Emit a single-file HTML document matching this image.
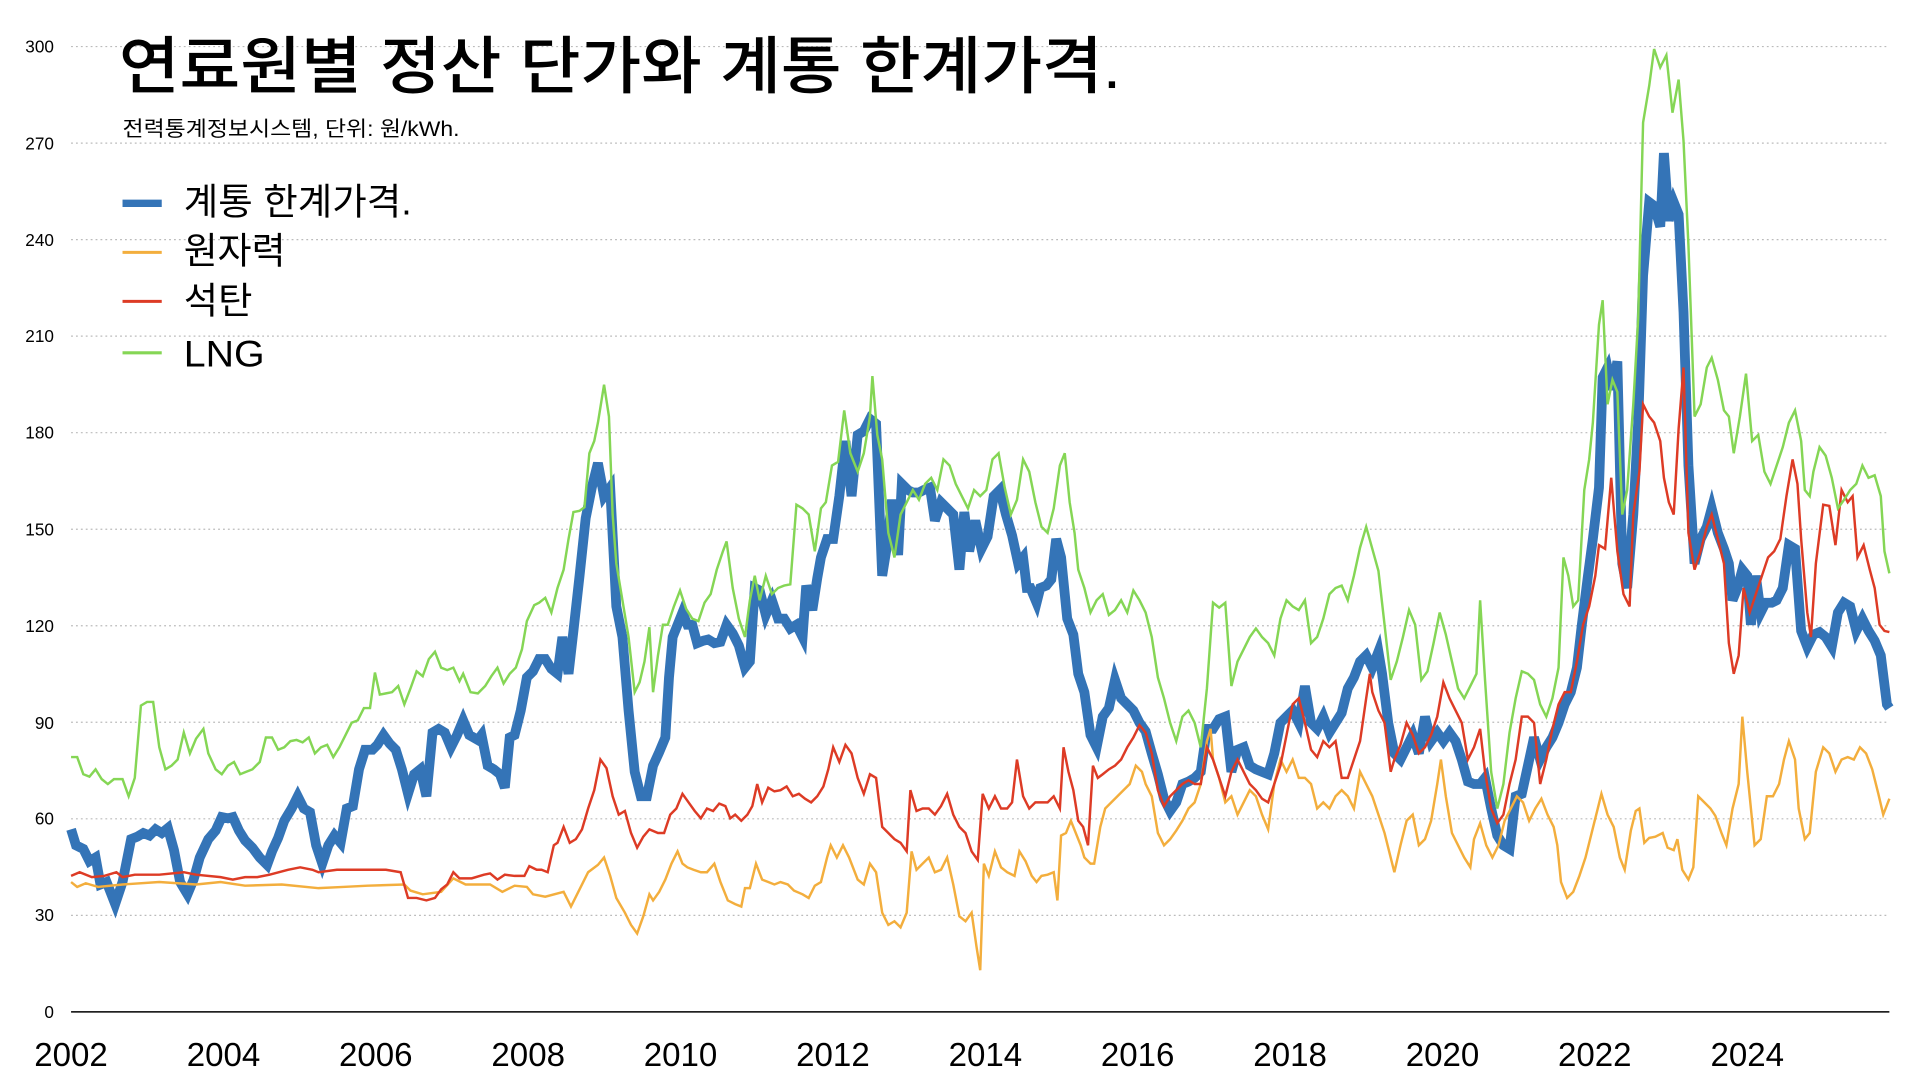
<!DOCTYPE html>
<html><head><meta charset="utf-8"><style>
html,body{margin:0;padding:0;background:#fff;width:1920px;height:1080px;overflow:hidden}
svg{display:block}
text{font-family:"Liberation Sans","Noto Sans CJK KR",sans-serif;fill:#000}
</style></head><body>
<svg width="1920" height="1080" viewBox="0 0 1567 881.6" preserveAspectRatio="none" xmlns="http://www.w3.org/2000/svg">
<g stroke="#bbb" stroke-width="1" stroke-dasharray="1.5,2.5">
<line x1="58" x2="1542" y1="38" y2="38"/><line x1="58" x2="1542" y1="116.8" y2="116.8"/><line x1="58" x2="1542" y1="195.6" y2="195.6"/><line x1="58" x2="1542" y1="274.4" y2="274.4"/><line x1="58" x2="1542" y1="353.2" y2="353.2"/><line x1="58" x2="1542" y1="432" y2="432"/><line x1="58" x2="1542" y1="510.8" y2="510.8"/><line x1="58" x2="1542" y1="589.6" y2="589.6"/><line x1="58" x2="1542" y1="668.4" y2="668.4"/><line x1="58" x2="1542" y1="747.2" y2="747.2"/>
</g>
<g font-size="14" text-anchor="end">
<text x="44" y="43">300</text><text x="44" y="122">270</text><text x="44" y="201">240</text><text x="44" y="279">210</text><text x="44" y="358">180</text><text x="44" y="437">150</text><text x="44" y="516">120</text><text x="44" y="595">90</text><text x="44" y="673">60</text><text x="44" y="752">30</text><text x="44" y="831">0</text>
</g>
<line x1="58" x2="1542" y1="826" y2="826" stroke="#000" stroke-width="1.3"/>
<g font-size="27" text-anchor="middle">
<text x="58" y="870">2002</text><text x="182.4" y="870">2004</text><text x="306.7" y="870">2006</text><text x="431.1" y="870">2008</text><text x="555.4" y="870">2010</text><text x="679.8" y="870">2012</text><text x="804.2" y="870">2014</text><text x="928.5" y="870">2016</text><text x="1052.9" y="870">2018</text><text x="1177.3" y="870">2020</text><text x="1301.6" y="870">2022</text><text x="1426" y="870">2024</text>
</g>
<g fill="none" stroke-linejoin="miter">
<polyline stroke="#3474b7" stroke-width="8" points="58,677 62,690 68,693 73,703 78,700 82,722 87,720 94,738 100,720 107,685 112,683 117,680 122,682 127,677 132,680 137,676 142,694 147,720 153,730 158,718 163,700 170,685 176,678 181,667 186,668 190,667 195,678 200,686 206,692 212,700 218,706 222,695 227,684 232,670 238,660 243,650 248,660 253,663 258,690 263,705 268,690 273,682 278,688 283,660 288,658 293,628 298,612 304,612 308,608 313,600 318,607 323,612 328,628 333,648 338,632 343,628 348,650 353,598 358,595 363,598 368,610 373,600 378,588 383,600 390,604 393,600 398,625 403,628 408,632 412,643 416,602 420,600 425,580 430,553 435,548 440,538 445,538 450,546 455,550 459,520 464,550 468,515 473,470 478,423 483,398 488,378 493,405 498,398 503,495 508,520 513,580 518,630 523,650 528,650 533,625 538,614 543,602 546,553 549,520 553,510 557,500 561,510 565,510 569,525 574,523 578,522 583,525 588,524 593,510 598,517 603,527 608,545 612,540 616,480 620,482 625,502 630,490 635,505 640,505 645,513 650,510 655,520 658,478 663,498 667,472 670,455 675,440 680,440 685,405 690,360 695,405 700,355 705,352 710,342 715,346 720,470 724,445 728,408 733,453 736,395 741,400 745,402 750,402 754,400 759,398 763,425 768,410 773,415 778,420 783,465 787,418 791,450 796,425 801,448 806,438 811,405 816,400 821,420 826,437 831,460 835,455 838,480 841,480 846,492 849,480 854,478 858,473 862,440 866,455 871,505 876,518 880,550 885,565 890,600 895,610 900,585 905,578 910,555 915,570 920,575 925,580 930,590 935,597 940,615 945,632 950,652 955,662 960,655 965,640 970,638 975,635 980,630 985,595 990,595 995,587 1000,585 1005,630 1010,612 1015,610 1020,625 1025,628 1030,630 1035,632 1040,615 1045,590 1050,585 1055,580 1060,590 1065,560 1070,590 1075,595 1080,585 1085,598 1090,590 1095,582 1100,562 1105,553 1110,540 1115,535 1120,545 1125,532 1128,550 1133,590 1138,615 1143,620 1148,610 1153,600 1158,615 1163,585 1168,605 1173,598 1178,605 1183,598 1188,605 1193,620 1198,638 1203,640 1208,640 1212,635 1217,660 1222,682 1227,690 1232,693 1237,650 1242,648 1247,625 1252,602 1257,620 1262,610 1267,602 1272,590 1277,575 1282,565 1287,545 1291,510 1296,470 1300,440 1305,398 1308,308 1312,300 1316,318 1320,295 1324,460 1328,480 1333,420 1337,345 1341,225 1346,165 1350,168 1355,185 1358,125 1362,180 1366,165 1370,175 1374,255 1378,380 1383,460 1388,440 1393,430 1397,415 1402,435 1407,448 1411,460 1414,490 1418,480 1422,465 1426,470 1429,510 1433,470 1437,500 1441,492 1446,492 1450,490 1455,480 1460,445 1465,448 1470,515 1475,528 1480,518 1485,516 1490,520 1495,528 1500,500 1505,492 1510,495 1515,515 1520,505 1525,515 1530,523 1535,535 1540,575 1542,578"/>
<polyline stroke="#f3ae3d" stroke-width="2" points="58,720 63,724 70,721 80,724 100,722 130,720 160,722 180,720 200,723 230,722 260,725 280,724 300,723 330,722 335,727 345,730 360,728 370,717 380,722 400,722 410,728 420,723 430,724 435,730 445,732 460,728 466,740 472,728 480,712 488,706 493,700 498,715 503,733 510,745 515,755 520,762 525,748 530,730 533,735 538,728 543,718 548,705 553,695 557,705 561,708 566,710 572,712 577,712 583,705 588,720 594,735 600,738 605,740 608,725 612,725 617,705 622,718 627,720 632,722 637,720 643,722 648,727 655,730 660,733 665,723 670,720 675,700 678,690 683,700 688,690 693,700 700,718 705,722 710,705 715,712 720,745 725,755 730,752 735,757 740,745 744,695 748,710 753,705 758,700 763,712 768,710 773,700 778,722 783,748 788,752 793,745 797,773 800,792 803,705 807,715 812,695 817,708 822,712 828,715 832,695 837,703 842,715 846,720 850,715 855,714 860,712 863,735 866,682 870,680 874,670 878,680 882,690 885,700 890,705 893,705 898,675 902,660 907,655 912,650 917,645 922,640 927,625 932,630 935,640 940,650 945,680 950,690 955,685 960,678 965,670 970,660 975,655 980,640 985,605 988,595 990,620 995,635 1000,655 1005,650 1010,665 1015,655 1020,645 1025,650 1030,665 1035,677 1040,640 1045,620 1050,630 1055,620 1060,635 1065,635 1070,640 1075,660 1080,655 1085,660 1090,650 1095,645 1100,650 1105,660 1110,630 1115,640 1120,650 1125,665 1130,680 1135,700 1138,712 1143,690 1148,670 1153,665 1158,690 1163,685 1168,670 1173,640 1176,620 1180,650 1185,680 1190,690 1195,700 1200,708 1203,685 1208,672 1213,690 1218,700 1223,690 1228,670 1233,660 1238,650 1243,655 1248,670 1253,660 1258,652 1263,665 1268,675 1271,690 1274,720 1279,733 1284,728 1289,715 1294,700 1299,680 1304,660 1307,648 1312,665 1317,675 1320,690 1322,700 1326,710 1331,678 1335,662 1338,660 1342,688 1346,684 1351,683 1357,680 1361,692 1366,694 1369,685 1373,710 1378,718 1382,708 1386,650 1391,655 1396,660 1400,666 1405,680 1409,690 1414,660 1419,640 1422,585 1426,630 1432,690 1437,685 1442,650 1447,650 1452,640 1456,620 1460,605 1465,620 1468,660 1473,685 1477,680 1482,630 1488,610 1493,615 1498,630 1503,620 1508,618 1513,620 1518,610 1523,615 1528,628 1533,648 1537,665 1542,652"/>
<polyline stroke="#dd3b25" stroke-width="2" points="58,715 65,712 75,716 85,715 95,712 100,716 110,714 130,714 150,712 160,714 180,716 190,718 200,716 210,716 220,714 235,710 245,708 255,710 260,712 275,710 290,710 300,710 315,710 327,712 333,733 340,733 348,735 355,733 360,726 365,722 370,712 375,717 385,717 395,714 400,713 406,718 412,714 420,715 428,715 432,707 438,710 442,710 447,712 452,690 455,688 460,675 465,688 470,685 475,677 480,660 485,645 490,620 495,627 500,650 505,665 510,662 515,680 520,692 525,683 530,677 537,680 542,680 547,665 552,660 557,648 562,655 567,662 572,668 577,660 582,662 587,656 592,658 596,668 600,665 605,670 610,665 614,658 618,640 622,655 627,643 632,646 637,645 642,642 647,650 652,648 657,652 662,655 667,650 672,642 676,628 680,610 685,622 690,608 695,615 700,635 705,648 710,632 715,635 720,675 725,680 730,685 735,688 740,695 743,645 748,662 753,660 758,660 763,665 768,658 773,648 778,665 783,675 788,680 793,695 798,702 802,648 807,660 812,650 817,660 822,660 826,655 830,620 835,650 840,660 845,655 850,655 855,655 860,650 865,660 868,610 872,630 876,645 880,670 884,675 888,690 892,625 896,635 900,632 905,628 910,625 915,620 920,610 925,602 930,592 935,598 940,615 945,645 950,658 955,650 960,645 965,640 970,637 975,640 980,640 985,610 990,620 995,635 1000,650 1005,630 1010,620 1015,630 1020,640 1025,645 1030,652 1035,655 1040,640 1045,625 1050,600 1055,575 1060,570 1065,590 1070,612 1075,618 1080,605 1085,610 1090,605 1095,635 1100,635 1105,620 1110,605 1115,570 1118,550 1120,565 1125,580 1130,590 1135,630 1138,620 1143,608 1148,590 1153,600 1158,615 1163,610 1168,600 1173,585 1178,557 1183,570 1188,580 1193,590 1198,620 1203,610 1208,595 1212,630 1217,660 1222,672 1227,665 1232,640 1237,620 1242,585 1247,585 1252,590 1257,640 1262,620 1267,595 1272,575 1277,565 1282,565 1287,540 1292,510 1297,495 1302,470 1305,445 1310,448 1315,390 1320,450 1325,485 1330,495 1333,420 1338,385 1341,330 1346,340 1350,345 1355,360 1358,390 1362,410 1366,420 1370,350 1374,300 1378,435 1383,465 1388,450 1393,430 1397,420 1402,440 1407,460 1411,525 1415,550 1419,535 1423,480 1428,500 1433,485 1438,470 1443,455 1448,450 1453,440 1458,405 1463,375 1467,395 1470,440 1475,500 1478,520 1482,460 1488,412 1493,413 1498,445 1503,400 1508,410 1512,405 1516,455 1521,445 1526,465 1530,480 1534,510 1538,515 1542,516"/>
<polyline stroke="#85d655" stroke-width="2" points="58,618 63,618 68,632 73,634 78,628 83,636 88,640 93,636 100,636 105,650 110,635 115,576 120,573 125,573 130,610 135,628 140,625 145,620 150,598 155,615 160,603 166,595 170,615 176,628 181,632 186,625 191,622 196,632 201,630 206,628 212,622 217,602 222,602 227,612 232,610 237,605 242,604 247,606 252,602 257,615 262,610 267,608 272,618 277,610 282,600 287,590 292,588 297,578 302,578 306,549 310,567 315,566 320,565 325,560 330,575 335,562 340,548 345,552 350,538 355,532 360,545 365,547 370,545 375,556 378,550 384,565 390,566 396,560 401,552 406,545 411,558 416,550 421,545 426,530 430,507 436,494 440,492 445,488 450,500 455,480 460,465 464,440 468,418 473,417 477,414 481,370 485,360 488,345 493,314 497,340 500,420 503,460 508,490 513,520 518,565 522,557 526,540 530,512 533,565 537,535 541,510 545,510 550,495 555,482 560,497 565,505 570,507 575,492 580,485 585,465 590,450 593,442 598,480 603,505 608,520 612,490 616,470 620,490 625,470 630,485 635,480 640,478 645,477 650,412 655,415 660,420 665,450 670,415 674,410 679,380 684,377 689,335 694,370 700,385 705,370 710,340 712,307 716,355 720,375 725,435 730,455 735,420 740,410 745,400 750,408 755,395 760,390 765,400 770,375 775,380 780,395 785,405 790,415 795,400 800,405 805,400 810,375 815,370 820,398 825,420 830,408 835,375 840,385 845,410 850,430 855,435 860,415 865,380 869,370 873,410 877,435 880,465 885,480 890,500 895,490 900,485 905,502 910,498 915,490 920,500 925,482 930,490 935,500 940,520 945,553 950,570 955,590 960,605 965,585 970,580 975,590 980,610 985,562 990,492 995,496 1000,492 1005,560 1010,540 1015,530 1020,520 1025,513 1030,520 1035,525 1040,535 1045,505 1050,490 1055,495 1060,498 1065,490 1070,525 1075,520 1080,505 1085,485 1090,480 1095,478 1100,490 1105,470 1110,447 1115,430 1120,448 1125,466 1130,510 1135,555 1140,540 1145,520 1150,498 1155,510 1160,555 1165,548 1170,525 1175,500 1180,518 1185,540 1190,562 1195,570 1200,560 1205,550 1208,490 1212,555 1217,630 1222,660 1227,640 1232,598 1237,570 1242,548 1247,550 1252,555 1257,575 1262,585 1267,570 1272,545 1276,455 1280,470 1284,495 1288,490 1293,400 1297,375 1300,345 1305,265 1308,245 1312,330 1316,310 1320,320 1324,420 1328,400 1333,330 1337,260 1341,100 1346,70 1350,40 1355,55 1360,45 1365,92 1370,65 1374,115 1378,200 1383,340 1388,330 1393,300 1397,292 1402,310 1407,335 1411,340 1415,370 1420,340 1425,305 1430,360 1435,355 1440,385 1445,395 1450,380 1455,365 1460,345 1465,335 1470,360 1473,400 1477,405 1480,385 1485,365 1490,372 1495,390 1500,415 1505,408 1510,400 1515,395 1520,380 1525,390 1530,388 1535,405 1538,450 1542,468"/>
</g>
<text x="97" y="72" font-size="51" font-weight="bold" textLength="818" lengthAdjust="spacingAndGlyphs" style="font-weight:500">연료원별 정산 단가와 계통 한계가격.</text>
<text x="100" y="111" font-size="17" textLength="275" lengthAdjust="spacingAndGlyphs">전력통계정보시스템, 단위: 원/kWh.</text>
<line x1="100" x2="132" y1="166" y2="166" stroke="#3474b7" stroke-width="6"/>
<line x1="100" x2="132" y1="206" y2="206" stroke="#f3ae3d" stroke-width="2.5"/>
<line x1="100" x2="132" y1="246" y2="246" stroke="#dd3b25" stroke-width="2.5"/>
<line x1="100" x2="132" y1="288" y2="288" stroke="#85d655" stroke-width="2.5"/>
<g font-size="30">
<text x="150" y="175" textLength="186" lengthAdjust="spacingAndGlyphs">계통 한계가격.</text>
<text x="150" y="215" textLength="83" lengthAdjust="spacingAndGlyphs">원자력</text>
<text x="150" y="256" textLength="56" lengthAdjust="spacingAndGlyphs">석탄</text>
<text x="150" y="299" textLength="66" lengthAdjust="spacingAndGlyphs">LNG</text>
</g>
</svg>
</body></html>
